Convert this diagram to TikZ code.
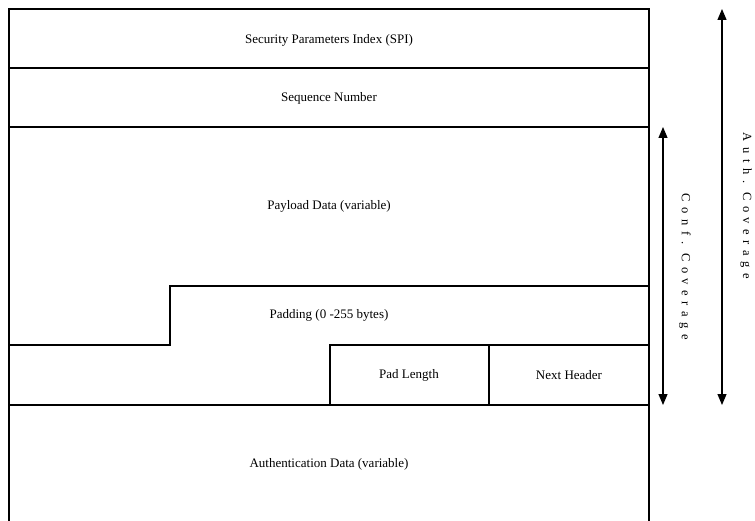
\documentclass[tikz,border=0pt]{standalone}
\usepackage{fontspec}
\setmainfont{Liberation Serif}
\usetikzlibrary{arrows.meta}
\begin{document}
\begin{tikzpicture}[x=1pt,y=-1pt,line width=1.2pt,
  field/.style={font=\fontsize{13}{15}\selectfont},
  span/.style={{Triangle[width=9pt,length=11pt]}-{Triangle[width=9pt,length=11pt]}},
  spanlabel/.style={font=\fontsize{12.5}{15}\selectfont\addfontfeature{LetterSpace=45},rotate=-90}]
  \useasboundingbox (0,0) rectangle (755,521);
  % packet outline
  \draw (9,521) -- (9,9) -- (649,9) -- (649,521);
  \draw (9,68) -- (649,68);
  \draw (9,127) -- (649,127);
  \draw (9,345) -- (170,345) -- (170,286) -- (649,286);
  \draw (330,405) -- (330,345) -- (649,345);
  \draw (489,345) -- (489,405);
  \draw (9,405) -- (649,405);
  % field names
  \node[field] (spi) at (329,40) {Security Parameters Index (SPI)};
  \node[field] (seq) at (329,98) {Sequence Number};
  \node[field] (payload) at (329,206) {Payload Data (variable)};
  \node[field] (pad) at (329,315) {Padding (0 -255 bytes)};
  \node[field] (padlen) at (409,375) {Pad Length};
  \node[field] (nexthdr) at (569,375) {Next Header};
  \node[field] (auth) at (329,464) {Authentication Data (variable)};
  % coverage spans
  \coordinate (conftop) at (663,127);
  \coordinate (confbot) at (663,405);
  \coordinate (authtop) at (722,9);
  \coordinate (authbot) at (722,405);
  \draw[span] (conftop) -- (confbot);
  \draw[span] (authtop) -- (authbot);
  \node[spanlabel] (conf) at (685,267) {Conf.\ Coverage};
  \node[spanlabel] (authcov) at (746,206) {Auth.\ Coverage};
\end{tikzpicture}
\end{document}
